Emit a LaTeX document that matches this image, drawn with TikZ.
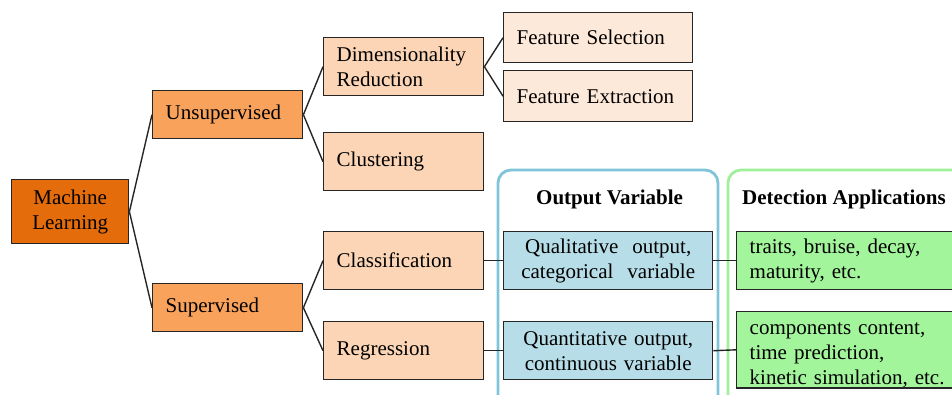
\documentclass[tikz,border=0pt]{standalone}
\usepackage{fontspec}
\setmainfont{Liberation Serif}
\definecolor{mlc}{HTML}{E46C0A}
\definecolor{midc}{HTML}{F8A25C}
\definecolor{subc}{HTML}{FBD5B5}
\definecolor{featc}{HTML}{FDE9D9}
\definecolor{bluef}{HTML}{B7DEE8}
\definecolor{blueb}{HTML}{7FC4D8}
\definecolor{greenf}{HTML}{A3F59B}
\definecolor{greenb}{HTML}{A0F09A}
\tikzset{
  box/.style={draw=black!85, line width=1.4pt, rectangle, anchor=north west,
    inner xsep=13pt, inner ysep=0pt, align=left,
    font=\fontsize{21}{25}\selectfont},
  cbox/.style={box, align=center},
  container/.style={line width=2.8pt, rounded corners=13pt},
  title/.style={font=\fontsize{21}{25}\selectfont\bfseries, anchor=west, inner sep=0pt},
  link/.style={line width=1.4pt, black!85}
}
\begin{document}
\begin{tikzpicture}[x=1pt,y=-1pt]
\useasboundingbox (0,0) rectangle (952,395);
\clip (0,0) rectangle (952,395);
% containers
\draw[container, draw=blueb] (498,420) -- (498,170) -- (718,170) -- (718,420);
\draw[container, draw=greenb] (728,420) -- (728,170) -- (990,170) -- (990,420);
\node[title] (ovt) at (536,199) {Output Variable};
\node[title] (dat) at (742,199) {Detection Applications};
% tree
\node[cbox, fill=mlc, minimum width=117pt, minimum height=64pt, text width=91pt] (ml) at (11,179) {Machine\\Learning};
\node[box, fill=midc, minimum width=150pt, minimum height=48pt, text width=124pt] (uns) at (152,90) {Unsupervised};
\node[box, fill=midc, minimum width=150pt, minimum height=48pt, text width=124pt] (sup) at (152,283) {Supervised};
\node[box, fill=subc, minimum width=160pt, minimum height=58pt, text width=134pt] (dr) at (323,37) {Dimensionality\\Reduction};
\node[box, fill=subc, minimum width=160pt, minimum height=58pt, text width=134pt] (cl) at (323,132) {Clustering};
\node[box, fill=subc, minimum width=160pt, minimum height=58pt, text width=134pt] (cls) at (323,231) {Classification};
\node[box, fill=subc, minimum width=160pt, minimum height=58pt, text width=134pt] (reg) at (323,321) {Regression};
\node[box, fill=featc, minimum width=189pt, minimum height=50pt, text width=163pt] (fs) at (503,12) {Feature Selection};
\node[box, fill=featc, minimum width=189pt, minimum height=51pt, text width=163pt] (fe) at (503,70) {Feature Extraction};
\node[cbox, fill=bluef, minimum width=209pt, minimum height=58pt, text width=183pt] (qual) at (503,231) {Qualitative\ \ output,\\categorical\ \ variable};
\node[cbox, fill=bluef, minimum width=209pt, minimum height=58pt, text width=183pt] (quan) at (503,321) {Quantitative\ output,\\continuous variable};
\node[box, fill=greenf, minimum width=240pt, minimum height=58pt, text width=214pt] (tr) at (736,231) {traits, bruise, decay,\\maturity, etc.};
\node[box, fill=greenf, minimum width=240pt, minimum height=74pt, text width=214pt] (comp) at (736,311) {\rule{0pt}{23pt}components content,\\time prediction,\\kinetic simulation, etc.};
% links
\draw[link] (ml.east) -- (uns.west);
\draw[link] (ml.east) -- (sup.west);
\draw[link] (uns.east) -- (dr.west);
\draw[link] (uns.east) -- (cl.west);
\draw[link] (sup.east) -- (cls.west);
\draw[link] (sup.east) -- (reg.west);
\draw[link] (dr.east) -- (fs.west);
\draw[link] (dr.east) -- (fe.west);
\draw[link] (cls.east) -- (qual.west);
\draw[link] (reg.east) -- (quan.west);
\draw[link] (qual.east) -- (tr.west);
\draw[link] (quan.east) -- (comp.west);
\end{tikzpicture}
\end{document}
